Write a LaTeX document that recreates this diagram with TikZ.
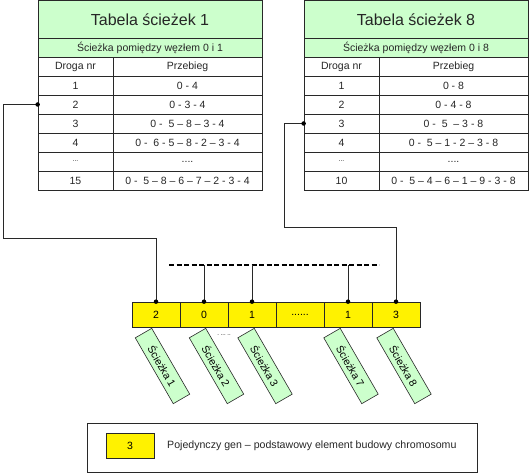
\documentclass[tikz,border=0pt]{standalone}
\usepackage{fontspec}
\setmainfont{Liberation Sans}
\definecolor{pgreen}{RGB}{204,255,204}
\definecolor{lineg}{RGB}{40,40,40}
\begin{document}
\begin{tikzpicture}[x=1pt,y=-1pt,
  cell/.style={draw=lineg, line width=0.7pt, minimum height=19pt, inner sep=0pt, font=\fontsize{10.5}{12}\selectfont, text=black!85},
  titlecell/.style={cell, fill=pgreen, minimum width=224pt, minimum height=38pt, font=\fontsize{16}{18}\selectfont},
  subcell/.style={cell, fill=pgreen, minimum width=224pt},
  leftcell/.style={cell, minimum width=75pt},
  rightcell/.style={cell, minimum width=149pt},
  gene/.style={draw=lineg, line width=0.7pt, fill=yellow, minimum width=48pt, minimum height=25pt, inner sep=0pt, font=\fontsize{10.5}{12}\selectfont},
  path/.style={draw=lineg, line width=0.6pt, fill=pgreen, minimum width=76pt, minimum height=19pt, inner sep=0pt, rotate=-60, font=\fontsize{10.5}{12}\selectfont},
  conn/.style={draw=lineg, line width=0.7pt},
  dotc/.style={fill=black, circle, inner sep=0pt, minimum size=4.5pt}
]
\useasboundingbox (0,0) rectangle (530,473);

% Table 1
\node[titlecell] (t1t) at (150,19.5) {Tabela ścieżek 1};
\node[subcell] (t1s) at (150,47.5) {Ścieżka pomiędzy węzłem 0 i 1};
\node[leftcell] (t1ha) at (75.5,66.5) {Droga nr};
\node[rightcell] (t1hb) at (187.5,66.5) {Przebieg};
\foreach \r/\y/\a/\b in {1/85.5/1/{0 - 4}, 2/104.5/2/{0 - 3 - 4}, 3/123.5/3/{0 -\ \ 5 – 8 – 3 - 4}, 4/142.5/4/{0 -\ \ 6 - 5 – 8 - 2 – 3 - 4}, 5/161.5/{\scriptsize ...}/{....}, 6/180.5/15/{0 -\ \ 5 – 8 – 6 – 7 – 2 - 3 - 4}}{
  \node[leftcell] (t1r\r a) at (75.5,\y) {\a};
  \node[rightcell] (t1r\r b) at (187.5,\y) {\b};
}

% Table 2
\node[titlecell] (t2t) at (416,19.5) {Tabela ścieżek 8};
\node[subcell] (t2s) at (416,47.5) {Ścieżka pomiędzy węzłem 0 i 8};
\node[leftcell] (t2ha) at (341.5,66.5) {Droga nr};
\node[rightcell] (t2hb) at (453.5,66.5) {Przebieg};
\foreach \r/\y/\a/\b in {1/85.5/1/{0 - 8}, 2/104.5/2/{0 - 4 - 8}, 3/123.5/3/{0 -\ \ 5\ \ – 3 - 8}, 4/142.5/4/{0 -\ \ 5 – 1 - 2 – 3 - 8}, 5/161.5/{\scriptsize ...}/{....}, 6/180.5/10/{0 -\ \ 5 – 4 – 6 – 1 – 9 - 3 - 8}}{
  \node[leftcell] (t2r\r a) at (341.5,\y) {\a};
  \node[rightcell] (t2r\r b) at (453.5,\y) {\b};
}

% Genes
\foreach \i/\x/\t in {1/156/2, 2/204/0, 3/252/1, 4/300/{......}, 5/348/1, 6/396/3}{
  \node[gene] (g\i) at (\x,314.5) {\t};
}

% Connectors from tables
\coordinate (c1) at (3,238);
\coordinate (c2) at (284,227);
\draw[conn] (t1r2a.west) -| (c1) -| (g1.north);
\draw[conn] (t2r3a.west) -| (c2) -| (g6.north);
\node[dotc] (d1) at (t1r2a.west) {};
\node[dotc] (d2) at (t2r3a.west) {};

% dashed bus
\coordinate (bs) at (169,265);
\coordinate (be) at (379,265);
\draw[line width=2.2pt, dash pattern=on 5pt off 2.5pt] (bs) -- (be);
\coordinate (b2) at (204,265);
\coordinate (b3) at (252,265);
\coordinate (b5) at (348,265);
\draw[conn] (b2) -- (g2.north);
\draw[conn] (b3) -- (g3.north);
\draw[conn] (b5) -- (g5.north);
\foreach \i in {1,2,3,5,6}{ \node[dotc] (gd\i) at (g\i.north) {}; }

% small dots
\node[font=\fontsize{6}{7}\selectfont, inner sep=0pt] (sd) at (224,335) {.\ ...\ ..};

% rotated path boxes
\node[path] (p1) at (162.5,366) {Ścieżka 1};
\node[path] (p2) at (216.5,366) {Ścieżka 2};
\node[path] (p3) at (265,366) {Ścieżka 3};
\node[path] (p7) at (351,366) {Ścieżka 7};
\node[path] (p8) at (404,366) {Ścieżka 8};

% Legend
\node[draw=lineg, line width=0.7pt, minimum width=390pt, minimum height=49pt, inner sep=0pt] (leg) at (282,447.5) {};
\node[gene] (lg) at (130,446) {3};
\node[anchor=west, inner sep=0pt, font=\fontsize{10.6}{12}\selectfont, text=black!85] (lt) at (167,446) {Pojedynczy gen – podstawowy element budowy chromosomu};
\end{tikzpicture}
\end{document}
